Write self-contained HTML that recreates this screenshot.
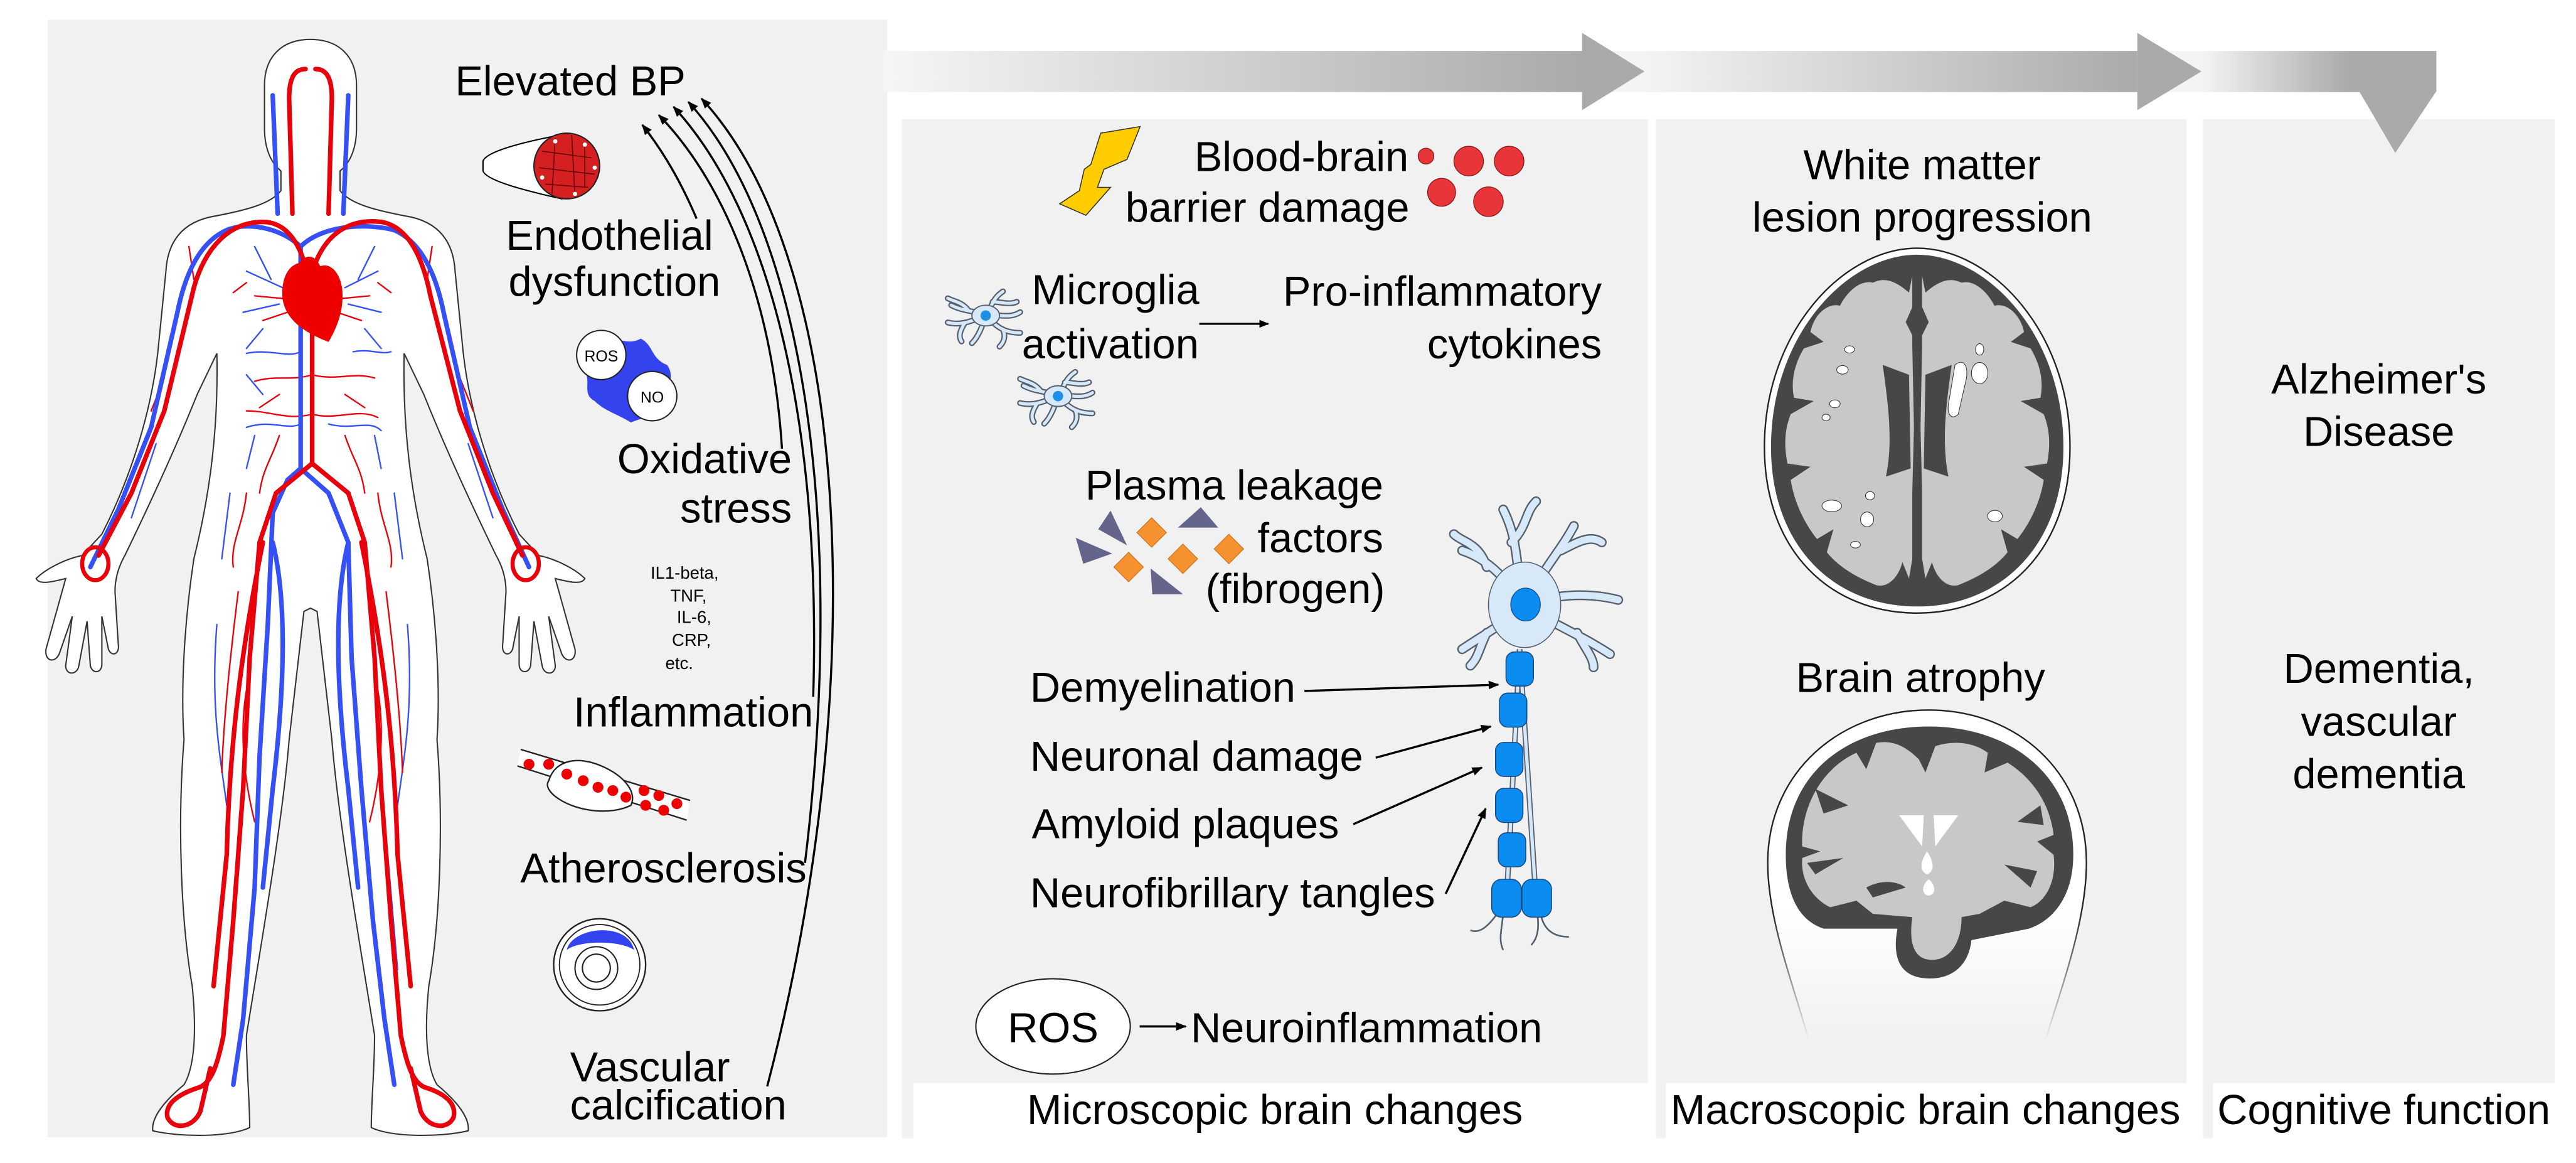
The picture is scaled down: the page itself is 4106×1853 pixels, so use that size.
<!DOCTYPE html>
<html><head><meta charset="utf-8"><style>
html,body{margin:0;padding:0;background:#fff;}
svg{display:block;}
text{font-family:"Liberation Sans",Arial,sans-serif;fill:#000;}
</style></head><body>
<svg width="4106" height="1853" viewBox="0 0 1568 707.6" preserveAspectRatio="none" xmlns="http://www.w3.org/2000/svg">
<defs>
<linearGradient id="g1" gradientUnits="userSpaceOnUse" x1="538" y1="0" x2="963" y2="0"><stop offset="0" stop-color="#f6f6f6"/><stop offset="1" stop-color="#aaaaaa"/></linearGradient>
<linearGradient id="g2" gradientUnits="userSpaceOnUse" x1="1001" y1="0" x2="1301" y2="0"><stop offset="0" stop-color="#f4f4f4"/><stop offset="1" stop-color="#aaaaaa"/></linearGradient>
<linearGradient id="g3" gradientUnits="userSpaceOnUse" x1="1340" y1="0" x2="1430" y2="0"><stop offset="0" stop-color="#f4f4f4"/><stop offset="1" stop-color="#aaaaaa"/></linearGradient>
<linearGradient id="hg" x1="0" y1="0" x2="0" y2="1"><stop offset="0.6" stop-color="#fff"/><stop offset="1" stop-color="#fff" stop-opacity="0"/></linearGradient>
<linearGradient id="hs" x1="0" y1="0" x2="0" y2="1"><stop offset="0.6" stop-color="#222"/><stop offset="1" stop-color="#222" stop-opacity="0"/></linearGradient>
<marker id="ah" viewBox="0 0 10 10" refX="9" refY="5" markerWidth="5" markerHeight="5" orient="auto-start-reverse"><path d="M0,1 L10,5 L0,9 Z" fill="#000"/></marker>
<g id="glia">
 <g fill="none" stroke-linecap="round">
  <g stroke="#55606e" stroke-width="3.4">
   <path d="M0,0 C-6,-3 -12,-2 -20,-6"/><path d="M-10,-3 C-14,-8 -18,-8 -22,-10"/><path d="M0,0 C-8,3 -14,6 -22,4"/><path d="M-12,4 C-15,9 -16,12 -14,15"/>
   <path d="M0,0 C4,-6 4,-10 10,-14"/><path d="M4,-8 C8,-8 14,-6 18,-8"/><path d="M0,0 C8,-1 14,2 20,-2"/><path d="M0,0 C6,6 10,10 20,10"/><path d="M10,8 C12,13 10,16 8,18"/><path d="M0,0 C-2,6 -4,12 -8,16"/>
  </g>
  <g stroke="#d7e8f8" stroke-width="1.8">
   <path d="M0,0 C-6,-3 -12,-2 -20,-6"/><path d="M-10,-3 C-14,-8 -18,-8 -22,-10"/><path d="M0,0 C-8,3 -14,6 -22,4"/><path d="M-12,4 C-15,9 -16,12 -14,15"/>
   <path d="M0,0 C4,-6 4,-10 10,-14"/><path d="M4,-8 C8,-8 14,-6 18,-8"/><path d="M0,0 C8,-1 14,2 20,-2"/><path d="M0,0 C6,6 10,10 20,10"/><path d="M10,8 C12,13 10,16 8,18"/><path d="M0,0 C-2,6 -4,12 -8,16"/>
  </g>
 </g>
 <ellipse cx="0" cy="0" rx="8" ry="6" fill="#d7e8f8" stroke="#55606e" stroke-width="0.7"/>
 <circle cx="0" cy="0" r="3" fill="#1e8fe8"/>
</g>
</defs>

<!-- panels -->
<rect x="29" y="12" width="511" height="680" fill="#f1f1f1"/>
<rect x="549" y="72.5" width="454" height="620" fill="#f1f1f1"/>
<rect x="1008" y="72.5" width="323" height="620" fill="#f1f1f1"/>
<rect x="1341" y="72.5" width="214" height="620" fill="#f1f1f1"/>
<rect x="556" y="659" width="447" height="34" fill="#fff"/>
<rect x="1014" y="659" width="317" height="34" fill="#fff"/>
<rect x="1347" y="659" width="208" height="34" fill="#fff"/>

<!-- top arrows -->
<rect x="975" y="31" width="326" height="25" fill="url(#g2)"/>
<rect x="1315" y="31" width="168" height="25" fill="url(#g3)"/>
<polygon points="538,31 963,31 963,20 1001,43.5 963,67 963,56 538,56" fill="url(#g1)"/>
<polygon points="1301,20 1340,43.5 1301,67" fill="#aaaaaa"/>
<polygon points="1436,55.5 1483,55.5 1458,93" fill="#aaaaaa"/>

<!-- body -->
<path d="M189,24 C172,24 161,34 161,52 L161,78 C161,92 166,100 171,104 L171,116 C165,124 150,128 128,132 C110,136 102,148 101,165 L96,215 C92,250 80,290 62,325 L50,338 C40,340 28,346 22,352 C24,356 32,354 40,352 L28,395 C27,402 33,404 36,398 L44,375 L40,405 C40,411 47,411 48,405 L53,378 L55,405 C56,410 62,410 62,404 L62,375 L66,395 C68,400 73,398 72,392 L70,360 C70,352 72,345 76,338 C92,305 108,270 120,240 L132,215 C133,260 128,300 118,340 C112,380 110,420 112,450 C108,500 110,560 117,600 C120,630 118,650 112,660 C100,670 92,680 93,688 C110,692 140,692 152,686 C152,670 150,650 150,630 C158,580 172,500 176,450 L185,372 L189,370 L193,372 L202,450 C206,500 220,580 228,630 C228,650 226,670 226,686 C238,692 268,692 285,688 C286,680 278,670 266,660 C260,650 258,630 261,600 C268,560 270,500 266,450 C268,420 266,380 260,340 C250,300 245,260 246,215 L258,240 C270,270 286,305 302,338 C306,345 308,352 308,360 L306,392 C305,398 310,400 312,395 L316,375 L316,404 C316,410 322,410 323,405 L325,378 L330,405 C331,411 338,411 338,405 L334,375 L342,398 C345,404 351,402 350,395 L338,352 C346,354 354,356 356,352 C350,346 338,340 328,338 L316,325 C298,290 286,250 282,215 L277,165 C276,148 268,136 250,132 C228,128 213,124 207,116 L207,104 C212,100 217,92 217,78 L217,52 C217,34 206,24 189,24 Z" fill="#fff" stroke="#333" stroke-width="0.8"/>

<!-- thin vessels -->
<g fill="none" stroke-width="0.9" stroke-linecap="round">
 <g stroke="#3550f5">
  <path d="M150,165 L172,175 M155,150 L165,170 M148,190 L170,185 M160,200 L150,212 M230,165 L210,175 M228,150 L218,170 M232,190 L212,185 M222,200 L232,212"/>
  <path d="M150,215 C165,212 175,218 183,214 M215,214 C225,212 232,216 238,214 M150,228 L160,240 M150,260 C165,255 175,262 183,258 M200,258 C215,262 225,255 232,262 M155,265 L150,285 M228,265 L232,285"/>
  <path d="M140,300 L135,340 M240,300 L245,340 M132,380 C128,430 134,460 138,490 M248,380 C252,430 246,460 242,490 M146,520 L140,590 M236,520 L242,590"/>
  <path d="M95,270 L80,315 M285,270 L300,315"/>
 </g>
 <g stroke="#e8000b">
  <path d="M155,180 L176,182 M160,195 L175,190 M225,180 L204,182 M220,195 L205,190 M150,172 L142,178 M230,172 L238,178"/>
  <path d="M155,232 C168,228 178,232 190,228 M190,228 C205,232 215,226 228,230 M158,248 L170,240 M222,248 L210,240 M150,250 C165,250 175,256 190,252 M190,252 C205,256 218,248 230,254"/>
  <path d="M170,265 C165,280 160,285 158,300 M210,265 C215,280 220,285 222,300 M150,300 C148,320 140,330 142,345 M230,300 C232,320 240,330 238,345"/>
  <path d="M145,360 C140,400 136,440 135,470 M235,360 C240,400 244,440 245,470 M150,420 C145,450 150,480 155,500 M230,420 C235,450 230,480 225,500"/>
  <path d="M115,150 L118,170 M263,150 L260,170 M100,230 L92,250 M280,230 L288,250"/>
 </g>
</g>
<!-- main vessels -->
<g fill="none" stroke-width="2.8" stroke-linecap="round" stroke-linejoin="round">
 <g stroke="#3550f5">
  <path d="M169,130 L166,58"/><path d="M209,130 L212,58"/>
  <path d="M183,285 L183,150 C170,138 150,135 138,140 C120,148 112,170 108,190 L92,260 L72,310 L55,345"/>
  <path d="M183,150 C195,138 220,135 240,140 C258,148 266,170 270,190 L286,260 L306,310 L322,345"/>
  <path d="M183,285 L175,292 L166,312 L163,380 L158,460 L155,540 L148,620 L142,660"/>
  <path d="M183,285 L200,300 L212,330 L214,400 L220,480 L227,560 L234,620 L240,660"/>
  <path d="M166,330 C176,370 172,430 166,480 L160,540 M212,330 C202,370 206,430 212,480 L218,540"/>
 </g>
 <g stroke="#e8000b">
  <path d="M178,130 L176,60 C176,46 180,42 186,42"/><path d="M200,130 L202,60 C202,46 198,42 192,42"/>
  <path d="M190,190 C188,150 175,135 160,135 C140,135 125,150 118,175 L100,250 L80,300 L60,338"/>
  <path d="M192,160 C200,140 215,133 232,135 C250,138 258,160 262,180 L280,250 L300,300 L318,338"/>
  <path d="M190,190 L190,282"/>
  <path d="M190,282 L168,300 L158,330 L152,400 L148,480 L142,560 L136,630 C132,650 128,660 120,662 C108,666 100,672 102,680 C106,688 118,686 122,676 L128,650"/>
  <path d="M190,282 L212,300 L222,330 L228,400 L232,480 L238,560 L244,630 C248,650 252,660 260,662 C272,666 278,672 276,680 C272,688 260,686 256,676 L250,650"/>
  <path d="M160,330 C150,380 140,440 138,520 L130,600"/><path d="M220,330 C230,380 240,440 242,520 L250,600"/>
 </g>
</g>
<ellipse cx="58" cy="343" rx="8" ry="10" fill="none" stroke="#e8000b" stroke-width="2.5"/>
<ellipse cx="320" cy="343" rx="8" ry="10" fill="none" stroke="#e8000b" stroke-width="2.5"/>
<path d="M182,160 C174,162 171,172 172,182 C174,194 184,202 200,208 C206,198 210,186 208,174 C206,164 200,160 195,162 C191,154 186,155 182,160 Z" fill="#ee0000"/>

<!-- left panel labels -->
<text x="277" y="58" font-size="25.5">Elevated BP</text>
<path d="M294,98 C296,92 320,86 342,82 L342,121 C320,116 296,110 294,104 Z" fill="#fff" stroke="#000" stroke-width="0.8"/>
<circle cx="345" cy="101" r="20" fill="#d42020" stroke="#222" stroke-width="0.8"/>
<g stroke="#600" stroke-width="0.6" fill="none"><path d="M330,92 L360,96 M328,102 L362,106 M332,112 L358,114 M338,84 L336,118 M348,82 L350,120 M356,88 L356,114"/></g>
<g fill="#fff"><circle cx="338" cy="86" r="1.3"/><circle cx="356" cy="88" r="1.3"/><circle cx="362" cy="102" r="1.3"/><circle cx="330" cy="108" r="1.3"/><circle cx="350" cy="118" r="1.3"/></g>
<text x="371" y="152" font-size="25.5" text-anchor="middle">Endothelial</text>
<text x="374" y="180" font-size="25.5" text-anchor="middle">dysfunction</text>
<path d="M358,210 C370,200 380,212 390,206 C398,210 396,218 406,222 C412,230 404,238 408,246 C400,252 392,254 384,257 C376,252 368,250 362,244 C354,240 360,232 356,226 C360,220 354,216 358,210 Z" fill="#3344ee"/>
<circle cx="366" cy="216" r="15" fill="#fff" stroke="#222" stroke-width="0.8"/>
<circle cx="397" cy="241" r="15" fill="#fff" stroke="#222" stroke-width="0.8"/>
<text x="366" y="220" font-size="9.5" text-anchor="middle">ROS</text>
<text x="397" y="245" font-size="9.5" text-anchor="middle">NO</text>
<text x="482" y="288" font-size="25.5" text-anchor="end">Oxidative</text>
<text x="482" y="318" font-size="25.5" text-anchor="end">stress</text>
<g font-size="10.5"><text x="396" y="352">IL1-beta,</text><text x="408" y="366">TNF,</text><text x="412" y="379">IL-6,</text><text x="409" y="393">CRP,</text><text x="405" y="407">etc.</text></g>
<text x="495" y="442" font-size="25.5" text-anchor="end">Inflammation</text>
<polygon points="317,456 420,487 418,499 315,466" fill="#fff"/>
<path d="M317,456 L420,487 M315,466 L418,499" stroke="#222" stroke-width="0.9"/>
<path d="M334,475 C338,462 352,460 366,466 C380,472 388,482 384,490 C372,496 352,494 340,486 C334,482 332,478 334,475 Z" fill="#fff" stroke="#222" stroke-width="0.9"/>
<g fill="#ee0000"><circle cx="322" cy="465" r="3.3"/><circle cx="334" cy="465" r="3.3"/><circle cx="345" cy="471" r="3.3"/><circle cx="355" cy="475" r="3.3"/><circle cx="364" cy="479" r="3.3"/><circle cx="373" cy="481" r="3.3"/><circle cx="381" cy="485" r="3.3"/><circle cx="392" cy="481" r="3.3"/><circle cx="401" cy="484" r="3.3"/><circle cx="393" cy="490" r="3.3"/><circle cx="404" cy="493" r="3.3"/><circle cx="412" cy="489" r="3.3"/></g>
<text x="491" y="537" font-size="25.5" text-anchor="end">Atherosclerosis</text>
<circle cx="365" cy="587" r="28" fill="#fff" stroke="#222" stroke-width="0.9"/>
<circle cx="365" cy="587" r="24.5" fill="#fff" stroke="#222" stroke-width="0.7"/>
<path d="M345,578 C348,564 382,560 386,578 C378,572 352,572 345,578 Z" fill="#3344ee"/>
<circle cx="363" cy="589" r="13" fill="#fff" stroke="#222" stroke-width="0.8"/>
<circle cx="363" cy="589" r="8.5" fill="#fff" stroke="#222" stroke-width="0.8"/>
<text x="347" y="658" font-size="25.5">Vascular</text>
<text x="347" y="681" font-size="25.5">calcification</text>
<g fill="none" stroke="#000" stroke-width="1.3" marker-end="url(#ah)">
 <path d="M424,133 Q410,100 391,76"/>
 <path d="M476,273 C470,180 440,110 401,70"/>
 <path d="M495,424 C500,260 470,130 410,65"/>
 <path d="M490,525 C515,320 490,140 419,62"/>
 <path d="M467,661 C530,420 520,160 427,60"/>
</g>

<!-- middle panel -->
<polygon points="694,77 670,81 664,100 660,103 657,116 645,124 661,131 676,114 668,114 672,103 686,97" fill="#ffcc00" stroke="#333" stroke-width="0.6"/>
<text x="727" y="104" font-size="25.5">Blood-brain</text>
<text x="685" y="135" font-size="25.5">barrier damage</text>
<g fill="#e8353a" stroke="#8a1a1a" stroke-width="0.5"><circle cx="868" cy="95" r="4.8"/><circle cx="894" cy="98" r="9"/><circle cx="918.6" cy="98" r="9"/><circle cx="877.5" cy="117" r="8.5"/><circle cx="906" cy="122.7" r="9"/></g>
<use href="#glia" transform="translate(600,192) scale(1.05)"/>
<use href="#glia" transform="translate(644,241) scale(1.05)"/>
<text x="628" y="185" font-size="25.5">Microglia</text>
<text x="622" y="218" font-size="25.5">activation</text>
<line x1="730" y1="197" x2="772" y2="197" stroke="#000" stroke-width="1.2" marker-end="url(#ah)"/>
<text x="975" y="186" font-size="25.5" text-anchor="end">Pro-inflammatory</text>
<text x="975" y="218" font-size="25.5" text-anchor="end">cytokines</text>
<text x="842" y="304" font-size="25.5" text-anchor="end">Plasma leakage</text>
<text x="842" y="336" font-size="25.5" text-anchor="end">factors</text>
<text x="843" y="367" font-size="25.5" text-anchor="end">(fibrogen)</text>
<g fill="#65658c"><polygon points="668.5,322 676,310.7 686,331.8"/><polygon points="654.8,327.2 659.4,343 677,336.8"/><polygon points="717,321 730.9,308.6 741.5,321"/><polygon points="700.4,345.9 701.4,361.6 720.2,361.6"/></g>
<g fill="#f5922f" stroke="#c96a10" stroke-width="0.4"><polygon points="701,315 710,324 701,333 692,324"/><polygon points="687,336 696,345 687,354 678,345"/><polygon points="720,331 729,340 720,349 711,340"/><polygon points="748,325 757,334 748,343 739,334"/></g>
<!-- neuron -->
<g fill="none" stroke-linecap="round">
 <g stroke="#55606e" stroke-width="6">
  <path d="M928,368 C915,350 905,340 890,335 M905,345 C900,330 890,330 885,325 M928,368 C922,345 925,330 915,310 M920,330 C930,320 928,312 935,305 M928,368 C940,345 950,335 958,320 M950,335 C960,330 968,325 975,330 M928,368 C945,362 965,360 985,365 M928,368 C945,380 960,385 980,398 M960,385 C965,395 970,400 970,406 M928,368 C915,380 905,385 890,395 M905,385 C900,395 900,400 895,405"/>
 </g>
 <g stroke="#d7e8f8" stroke-width="4.2">
  <path d="M928,368 C915,350 905,340 890,335 M905,345 C900,330 890,330 885,325 M928,368 C922,345 925,330 915,310 M920,330 C930,320 928,312 935,305 M928,368 C940,345 950,335 958,320 M950,335 C960,330 968,325 975,330 M928,368 C945,362 965,360 985,365 M928,368 C945,380 960,385 980,398 M960,385 C965,395 970,400 970,406 M928,368 C915,380 905,385 890,395 M905,385 C900,395 900,400 895,405"/>
 </g>
</g>
<ellipse cx="928" cy="368" rx="22" ry="26" fill="#d7e8f8" stroke="#55606e" stroke-width="0.6"/>
<ellipse cx="928.6" cy="367.8" rx="9" ry="10" fill="#0a8cf0" stroke="#1a4a80" stroke-width="0.5"/>
<path d="M925,395 L917,548 M925,395 L935,548" stroke="#55606e" stroke-width="3.4" fill="none"/>
<path d="M925,395 L917,548 M925,395 L935,548" stroke="#d7e8f8" stroke-width="2" fill="none"/>
<g fill="none" stroke="#55606e" stroke-width="1"><path d="M912,555 C905,565 900,568 895,566 M915,556 C914,566 912,572 915,578 M938,557 C940,566 946,570 955,570 M936,558 C937,567 935,572 932,575"/></g>
<g fill="#0a8cf0" stroke="#1a4a80" stroke-width="0.6">
 <rect x="916.7" y="396.7" width="16.7" height="20.7" rx="5"/><rect x="912.7" y="421.7" width="16.7" height="20.7" rx="5"/><rect x="910.3" y="451.7" width="16.7" height="20.7" rx="5"/><rect x="910.3" y="479.7" width="16.7" height="20.7" rx="5"/><rect x="912" y="506.7" width="16.7" height="20.7" rx="5"/>
 <rect x="908" y="535" width="18" height="23" rx="6"/><rect x="926.4" y="535" width="18" height="23" rx="6"/>
</g>
<text x="627" y="427" font-size="25.5">Demyelination</text>
<text x="627" y="469" font-size="25.5">Neuronal damage</text>
<text x="628" y="510" font-size="25.5">Amyloid plaques</text>
<text x="627" y="552" font-size="25.5">Neurofibrillary tangles</text>
<g stroke="#000" stroke-width="1.3" marker-end="url(#ah)">
 <line x1="794" y1="420.4" x2="912" y2="416.6"/><line x1="837.4" y1="461" x2="907.4" y2="442"/><line x1="823.7" y1="501.5" x2="902" y2="467"/><line x1="880" y1="543.8" x2="904.3" y2="492"/>
</g>
<ellipse cx="641" cy="624.5" rx="47" ry="29" fill="#fff" stroke="#222" stroke-width="0.8"/>
<text x="641" y="634" font-size="25.5" text-anchor="middle">ROS</text>
<line x1="693.7" y1="624.5" x2="721.7" y2="624.5" stroke="#000" stroke-width="1.3" marker-end="url(#ah)"/>
<text x="724.8" y="634" font-size="25.5">Neuroinflammation</text>
<text x="776" y="684" font-size="25.5" text-anchor="middle">Microscopic brain changes</text>

<!-- macro panel -->
<text x="1170" y="109" font-size="25.5" text-anchor="middle">White matter</text>
<text x="1170" y="141" font-size="25.5" text-anchor="middle">lesion progression</text>
<path d="M1167,151 C1212,151 1260,202 1260,272 C1260,335 1220,373 1167,373 C1114,373 1074,335 1074,272 C1074,202 1122,151 1167,151 Z" fill="#fff" stroke="#222" stroke-width="0.9"/>
<path d="M1167,155 C1210,155 1256,204 1256,272 C1256,332 1218,369 1167,369 C1116,369 1078,332 1078,272 C1078,204 1124,155 1167,155 Z" fill="#474747"/>
<g id="hemi" fill="#c8c8c8">
<path d="M1164,168 L1162,178 C1155,172 1148,168 1140,172 C1132,170 1124,178 1120,186 C1112,184 1104,192 1102,202 L1110,208 L1098,212 C1092,222 1090,232 1092,242 L1104,244 L1090,252 C1086,262 1086,272 1088,282 L1102,284 L1090,292 C1092,305 1098,318 1106,328 L1116,322 L1112,336 C1120,346 1132,352 1142,356 C1150,358 1156,350 1158,342 L1162,352 L1164,340 L1164,300 L1165,260 L1164,210 Z"/>
</g>
<use href="#hemi" transform="translate(2334,0) scale(-1,1)"/>
<g fill="#474747">
 <path d="M1160,196 L1167,180 L1174,196 L1167,210 Z"/>
 <path d="M1146,222 L1162,228 L1163,285 L1148,290 C1152,270 1150,250 1146,222 Z"/>
 <path d="M1188,222 L1172,228 L1171,285 L1186,290 C1182,270 1184,250 1188,222 Z"/>
 <path d="M1166,295 L1168,295 L1168,340 L1166,340 Z"/>
</g>
<g fill="#fff" stroke="#333" stroke-width="0.4">
 <ellipse cx="1125.8" cy="212.6" rx="3" ry="2.2"/><ellipse cx="1121.5" cy="225" rx="3.5" ry="2.6"/><ellipse cx="1116.9" cy="245.7" rx="3.2" ry="2.4"/><ellipse cx="1111.5" cy="254" rx="2.5" ry="2"/>
 <ellipse cx="1205" cy="212.6" rx="2.5" ry="3.5"/><ellipse cx="1205" cy="227" rx="5" ry="6.5"/><path d="M1190,222 C1195,218 1198,222 1197,230 L1192,252 C1188,256 1185,252 1186,246 Z"/>
 <ellipse cx="1115" cy="307.8" rx="6" ry="3.5"/><ellipse cx="1138.3" cy="301.6" rx="2.8" ry="2.5"/><ellipse cx="1136.5" cy="316" rx="4" ry="4.5"/><ellipse cx="1129.4" cy="331.4" rx="3" ry="2"/><ellipse cx="1214.3" cy="314" rx="4.5" ry="3.5"/>
</g>
<text x="1169" y="421" font-size="25.5" text-anchor="middle">Brain atrophy</text>
<path d="M1101,633 C1092,600 1076,560 1076,525 C1076,470 1120,432 1174,432 C1228,432 1270,470 1270,525 C1270,560 1255,600 1245,633 Z" fill="url(#hg)"/>
<path d="M1101,633 C1092,600 1076,560 1076,525 C1076,470 1120,432 1174,432 C1228,432 1270,470 1270,525 C1270,560 1255,600 1245,633" fill="none" stroke="url(#hs)" stroke-width="0.9"/>
<path d="M1087,520 C1087,470 1125,442 1174,442 C1222,442 1262,470 1262,520 C1262,545 1250,560 1235,565 L1200,572 C1198,590 1185,597 1170,595 C1155,593 1152,580 1155,565 L1110,565 C1095,560 1087,545 1087,520 Z" fill="#474747"/>
<path d="M1097,515 C1096,492 1108,468 1130,458 L1136,468 L1142,452 C1152,450 1160,454 1168,462 L1172,470 L1178,454 C1190,450 1202,452 1210,458 L1208,470 L1222,464 C1238,474 1248,490 1250,508 L1240,512 L1250,520 C1252,535 1246,548 1236,552 L1220,548 L1205,556 L1194,558 C1194,572 1188,584 1176,584 C1164,584 1162,572 1164,558 L1140,556 L1130,548 L1114,552 C1102,546 1096,534 1097,522 L1108,518 Z" fill="#c8c8c8"/>
<g fill="#474747"><path d="M1105,480 L1125,490 L1110,495 Z M1100,525 L1122,522 L1105,532 Z M1242,490 L1228,500 L1244,502 Z M1240,530 L1220,526 L1236,540 Z M1136,540 C1145,535 1155,536 1160,540 L1140,546 Z"/></g>
<g fill="#fff"><polygon points="1156,496 1171,496 1170,515"/><polygon points="1177,496 1192,496 1178,515"/><path d="M1173,518 C1177,524 1178,530 1173,532 C1168,530 1169,524 1173,518 Z"/><path d="M1174,535 C1178,538 1179,544 1174,545 C1169,544 1170,538 1174,535 Z"/></g>
<text x="1172" y="684" font-size="25.5" text-anchor="middle">Macroscopic brain changes</text>

<!-- cognitive -->
<text x="1448" y="239.5" font-size="25.5" text-anchor="middle">Alzheimer's</text>
<text x="1448" y="271.3" font-size="25.5" text-anchor="middle">Disease</text>
<text x="1448" y="415.4" font-size="25.5" text-anchor="middle">Dementia,</text>
<text x="1448" y="447.7" font-size="25.5" text-anchor="middle">vascular</text>
<text x="1448" y="479.6" font-size="25.5" text-anchor="middle">dementia</text>
<text x="1451" y="684" font-size="25.5" text-anchor="middle">Cognitive function</text>
</svg>
</body></html>
